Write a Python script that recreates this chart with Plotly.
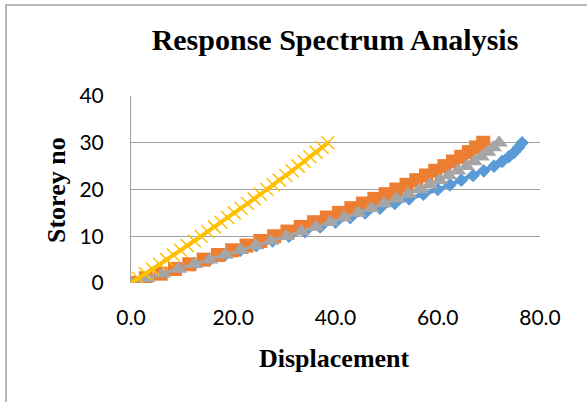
import plotly.graph_objects as go

storeys = list(range(0, 31))

series_names = ["Series1", "Series2", "Series3", "Series4"]

disp_blue = [0.0, 3.1, 6.2, 9.3, 12.4, 15.4, 18.4, 21.4, 24.5, 27.7, 30.9,
             34.0, 37.0, 40.0, 42.9, 45.8, 48.7, 51.6, 54.4, 57.2, 60.0,
             62.4, 64.6, 66.9, 69.0, 71.0, 72.6, 73.9, 75.0, 75.8, 76.5]

disp_orange = [0.0, 2.9, 5.8, 8.6, 11.4, 14.2, 17.0, 19.8, 22.6, 25.3, 28.0,
               30.6, 33.2, 35.8, 38.3, 40.7, 43.1, 45.4, 47.6, 49.8, 51.9,
               53.9, 55.8, 57.7, 59.5, 61.3, 63.0, 64.6, 66.1, 67.5, 68.9]

disp_gray = [0.0, 3.1, 6.2, 9.3, 12.4, 15.4, 18.4, 21.4, 24.4, 27.4, 30.4,
             33.3, 36.2, 39.0, 41.7, 44.4, 47.0, 49.5, 51.9, 54.2, 56.4,
             58.4, 60.3, 62.1, 63.9, 65.6, 67.1, 68.5, 69.8, 70.9, 72.0]

disp_yellow = [0.0, 1.4, 2.8, 4.2, 5.6, 7.0, 8.3, 9.7, 11.0, 12.4, 13.7,
               15.0, 16.3, 17.6, 18.9, 20.2, 21.5, 22.8, 24.1, 25.3, 26.6,
               27.8, 29.0, 30.3, 31.5, 32.7, 33.9, 35.0, 36.2, 37.4, 38.5]

x_ticks = [0, 20, 40, 60, 80]
y_ticks = [0, 10, 20, 30, 40]

BLUE = "#5B9BD5"
ORANGE = "#ED7D31"
GRAY = "#A5A5A5"
YELLOW = "#FFC000"

fig = go.Figure()
fig.add_trace(go.Scatter(x=disp_blue, y=storeys, name=series_names[0], mode="lines+markers",
                         line=dict(color=BLUE, width=4),
                         marker=dict(symbol="diamond", size=10.5, color=BLUE)))
fig.add_trace(go.Scatter(x=disp_orange, y=storeys, name=series_names[1], mode="lines+markers",
                         line=dict(color=ORANGE, width=3),
                         marker=dict(symbol="square", size=14, color=ORANGE)))
fig.add_trace(go.Scatter(x=disp_gray, y=storeys, name=series_names[2], mode="lines+markers",
                         line=dict(color=GRAY, width=3),
                         marker=dict(symbol="triangle-up", size=15, color=GRAY)))
fig.add_trace(go.Scatter(x=disp_yellow, y=storeys, name=series_names[3], mode="lines+markers",
                         line=dict(color=YELLOW, width=4, shape="spline"),
                         marker=dict(symbol="x-thin", size=13,
                                     line=dict(color=YELLOW, width=1.5), color=YELLOW)))

L, T, R, B = 131, 96, 540, 283
W, H = 587, 402
pw, ph = R - L, B - T

fig.update_layout(
    width=W, height=H,
    margin=dict(l=L, r=W - R, t=T, b=H - B, autoexpand=False),
    paper_bgcolor="white", plot_bgcolor="white",
    showlegend=False,
    title=dict(text="<b>Response Spectrum Analysis</b>",
               font=dict(family="Liberation Serif", size=30, color="black"),
               x=335 / W, xanchor="center", y=1 - 39 / H, yanchor="middle"),
    xaxis=dict(range=[0, 80], tickvals=x_ticks, tickformat=".1f",
               showgrid=False, zeroline=False, showline=False, ticks="",
               tickfont=dict(family="Lato", size=21, color="black"),
               ticklabelstandoff=20, fixedrange=True),
    yaxis=dict(range=[0, 40], tickvals=y_ticks,
               showgrid=True, gridcolor="#A0A0A0", gridwidth=1,
               zeroline=False, showline=True, linecolor="#A0A0A0", linewidth=1,
               ticks="", tickfont=dict(family="Lato", size=21, color="black"),
               ticklabelstandoff=22, fixedrange=True),
    annotations=[
        dict(text="<b>Displacement</b>", xref="paper", yref="paper",
             x=(334 - L) / pw, y=(B - 358) / ph, xanchor="center", yanchor="middle",
             showarrow=False, font=dict(family="Liberation Serif", size=26, color="black")),
        dict(text="<b>Storey no</b>", xref="paper", yref="paper",
             x=(56 - L) / pw, y=(B - 190) / ph, xanchor="center", yanchor="middle",
             textangle=-90, showarrow=False,
             font=dict(family="Liberation Serif", size=26, color="black")),
    ],
    shapes=[
        dict(type="rect", xref="paper", yref="paper", layer="below",
             x0=(6 - L) / pw, x1=(620 - L) / pw, y0=(B - 440) / ph, y1=(B - 5) / ph,
             line=dict(color="#A0A0A0", width=1.5), fillcolor="rgba(0,0,0,0)"),
    ],
)

fig.write_html("out.html")
